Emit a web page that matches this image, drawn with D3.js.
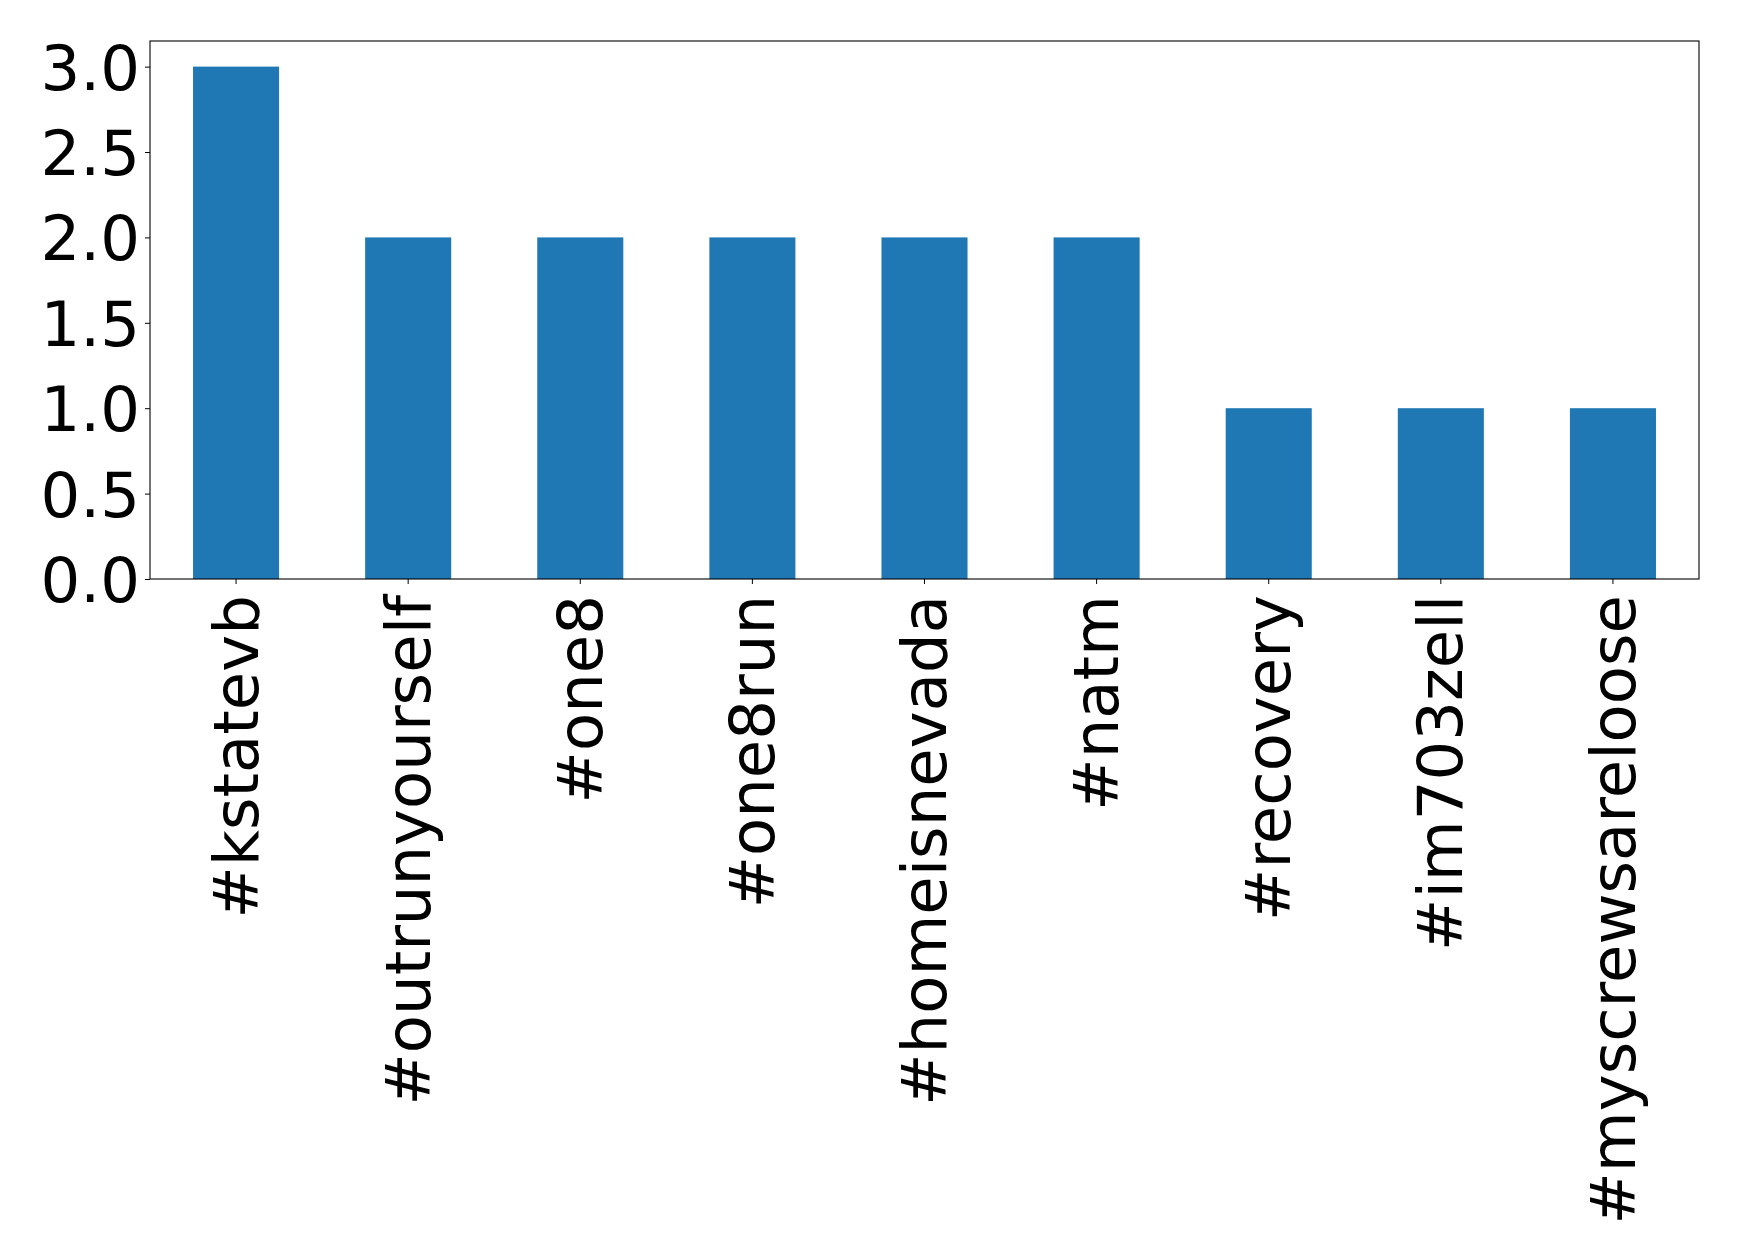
<!DOCTYPE html>
<html lang="en">
	<head>
		<meta charset="utf-8">
		<title>Hashtag Counts</title>
		<script type="text/javascript" src="https://cdn.jsdelivr.net/npm/d3@7"></script>
		<style>
			body { margin: 0; background: #fff; }
			text { font-family: "DejaVu Sans", sans-serif; }
		</style>
	</head>
	<body>
		<script type="text/javascript">

			// hashtags and how often they show up
			var hashtags = ["#kstatevb", "#outrunyourself", "#one8", "#one8run", "#homeisnevada", "#natm", "#recovery", "#im703zell", "#myscrewsareloose"]
			var counts = [3, 2, 2, 2, 2, 2, 1, 1, 1]
			var yTicks = [0.0, 0.5, 1.0, 1.5, 2.0, 2.5, 3.0]

			var w = 1739
			var h = 1258
			// plot box edges (note: "top" is reserved on window, so use plot* names)
			var plotLeft = 150, plotRight = 1699, plotTop = 41, plotBottom = 579
			var fontSize = 62.5

			var svg = d3.select("body").append("svg").attr("width", w).attr("height", h)

			var xScale = d3.scaleBand()
				.domain(hashtags)
				.range([plotLeft, plotRight])
				.paddingInner(0.5)
				.paddingOuter(0.25)

			var yScale = d3.scaleLinear()
				.domain([0, d3.max(counts) * 1.05])
				.range([plotBottom, plotTop])

			// bars
			svg.selectAll("rect.bar")
				.data(counts)
				.enter()
				.append("rect")
				.attr("class", "bar")
				.attr("x", function(d, i) { return xScale(hashtags[i]) })
				.attr("y", function(d) { return yScale(d) })
				.attr("width", xScale.bandwidth())
				.attr("height", function(d) { return yScale(0) - yScale(d) })
				.style("fill", "#1f77b4")

			// y axis
			var yAxis = d3.axisLeft(yScale)
				.tickValues(yTicks)
				.tickFormat(d3.format(".1f"))
				.tickSize(5)
				.tickPadding(5)
			var gy = svg.append("g").attr("transform", "translate(" + plotLeft + ",0)").call(yAxis)
			gy.select(".domain").remove()
			gy.selectAll("text").style("font-size", fontSize + "px").attr("fill", "#000")
				.attr("dy", "0.36em")

			// x axis, labels rotated
			var xAxis = d3.axisBottom(xScale).tickSize(5).tickFormat("")
			var gx = svg.append("g").attr("transform", "translate(0," + plotBottom + ")").call(xAxis)
			gx.select(".domain").remove()

			svg.selectAll("text.xlabel")
				.data(hashtags)
				.enter()
				.append("text")
				.attr("class", "xlabel")
				.attr("transform", function(d) {
					var x = xScale(d) + xScale.bandwidth() / 2 + 21.6
					return "translate(" + x + "," + (plotBottom + 16) + ") rotate(-90)"
				})
				.attr("text-anchor", "end")
				.style("font-size", fontSize + "px")
				.text(function(d) { return d })

			// frame around the plot
			svg.append("rect")
				.attr("x", plotLeft).attr("y", plotTop)
				.attr("width", plotRight - plotLeft).attr("height", plotBottom - plotTop)
				.style("fill", "none").style("stroke", "#000").style("stroke-width", 1.1)

		</script>
	</body>
</html>
